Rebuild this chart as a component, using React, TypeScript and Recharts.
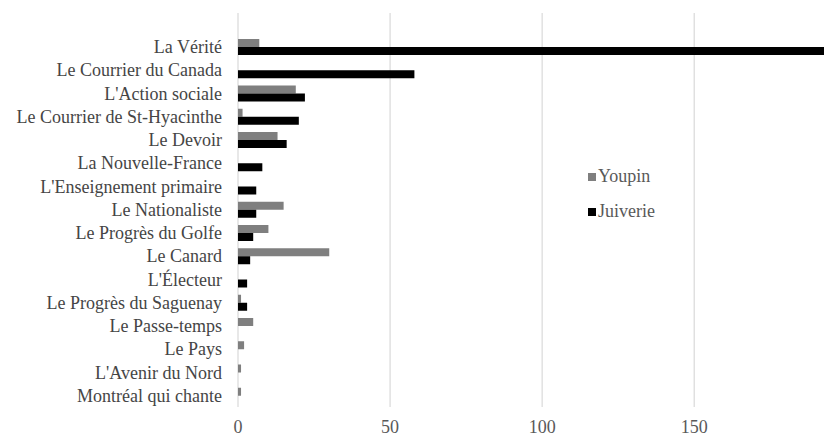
import React from 'react'
import { BarChart, Bar, XAxis, YAxis, CartesianGrid } from 'recharts'

// Journaux, du haut vers le bas
const journaux = [
  'La Vérité',
  'Le Courrier du Canada',
  "L'Action sociale",
  'Le Courrier de St-Hyacinthe',
  'Le Devoir',
  'La Nouvelle-France',
  "L'Enseignement primaire",
  'Le Nationaliste',
  'Le Progrès du Golfe',
  'Le Canard',
  "L'Électeur",
  'Le Progrès du Saguenay',
  'Le Passe-temps',
  'Le Pays',
  "L'Avenir du Nord",
  'Montréal qui chante',
]

const youpin = [7, 0, 19, 1.5, 13, 0, 0, 15, 10, 30, 0, 1, 5, 2, 1, 1]
const juiverie = [193, 58, 22, 20, 16, 8, 6, 6, 5, 4, 3, 3, 0, 0, 0, 0]

const xTicks = [0, 50, 100, 150]

const series = [
  { key: 'Youpin', color: '#7f7f7f' },
  { key: 'Juiverie', color: '#000000' },
]

const data = journaux.map((name, i) => ({
  name,
  Youpin: youpin[i],
  Juiverie: juiverie[i],
}))

const font = '"Liberation Serif", "Times New Roman", serif'

export default function App() {
  return (
    <div
      style={{
        position: 'relative',
        marginLeft: -8,
        marginTop: -8,
        width: 832,
        height: 441,
        background: '#fff',
      }}
    >
      {/* cadre de l'image d'origine, rogné à droite et en bas */}
      <svg width={832} height={441} style={{ position: 'absolute', left: 0, top: 0 }}>
        <path d="M5.5 441 L5.5 4.5 L832 4.5" fill="none" stroke="#1a1a1a" strokeWidth={2} />
      </svg>
      <div style={{ position: 'absolute', left: 0, top: 0 }}>
        <BarChart
          width={832}
          height={441}
          data={data}
          layout="vertical"
          barSize={8}
          barGap={0}
          margin={{ top: 13, right: 7, left: 0, bottom: 0 }}
        >
          <CartesianGrid horizontal={false} stroke="#d9d9d9" strokeWidth={1.2} />
          <XAxis
            type="number"
            domain={[0, 193]}
            ticks={xTicks}
            allowDataOverflow
            height={34}
            axisLine={false}
            tickLine={false}
            tickSize={0}
            tickMargin={13}
            tick={{ fill: '#595959', fontSize: 18, fontFamily: font }}
          />
          <YAxis
            type="category"
            dataKey="name"
            width={238}
            padding={{ top: 22, bottom: 0 }}
            axisLine={false}
            tickLine={false}
            tickSize={0}
            tickMargin={16}
            interval={0}
            tick={{ fill: '#454545', fontSize: 18, fontFamily: font }}
          />
          {series.map((s) => (
            <Bar key={s.key} dataKey={s.key} fill={s.color} isAnimationActive={false} />
          ))}
        </BarChart>
      </div>

      {/* légende */}
      <div
        style={{
          position: 'absolute',
          left: 588,
          top: 159,
          fontFamily: font,
          fontSize: 18,
          color: '#595959',
        }}
      >
        {series.map((s) => (
          <div key={s.key} style={{ display: 'flex', alignItems: 'center', height: 35 }}>
            <span style={{ width: 8, height: 8, background: s.color, display: 'inline-block', marginRight: 2 }} />
            <span>{s.key}</span>
          </div>
        ))}
      </div>
    </div>
  )
}
